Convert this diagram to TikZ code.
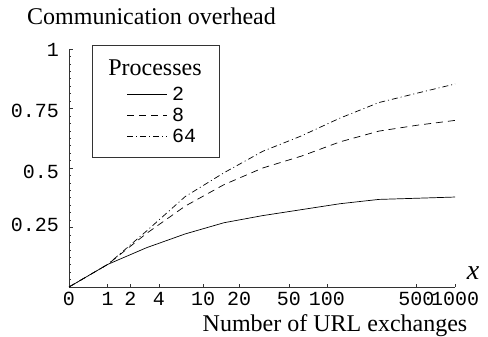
\documentclass[tikz,border=0pt]{standalone}
\usepackage{fontspec}
\setmainfont{Liberation Serif}
\setmonofont{Liberation Mono}
\begin{document}
\begin{tikzpicture}[x=1pt,y=1pt,
  axisline/.style={black!80,line width=0.7pt},
  tickmark/.style={black!80,line width=0.5pt},
  ticklab/.style={font=\fontsize{20}{20}\selectfont\ttfamily,inner sep=0pt},
  txt/.style={font=\fontsize{24}{24}\selectfont,inner sep=0pt},
  curve/.style={line width=0.7pt,line join=round},
  proc2/.style={curve},
  proc8/.style={curve,dash pattern=on 7pt off 5pt},
  proc64/.style={curve,dash pattern=on 6pt off 3pt on 1pt off 3pt}]
\useasboundingbox (0,0) rectangle (488,337);

% axes
\coordinate (O) at (69,50);
\coordinate (xend) at (455,50);
\coordinate (yend) at (69,288);
\draw[axisline] (xend) -- (O) -- (yend);

% y ticks: majors every 0.25, minors in between
\foreach \i in {0,...,32}{
  \pgfmathsetmacro{\yy}{50+238*\i/32}
  \draw[tickmark] (69,\yy) -- ++(2,0);
}
\foreach \v in {0.25,0.5,0.75,1}{
  \pgfmathsetmacro{\yy}{50+238*\v}
  \draw[tickmark] (69,\yy) -- ++(4,0);
}
\node[ticklab,anchor=east] (ly1)   at (59,287)   {1};
\node[ticklab,anchor=east] (ly075) at (59,226.5) {0.75};
\node[ticklab,anchor=east] (ly05)  at (59,165.5) {0.5};
\node[ticklab,anchor=east] (ly025) at (59,112)   {0.25};

% x ticks on a log(1+x) scale
\foreach \xx/\lab in {69/0,107.74/1,130.40/2,158.96/4,203.03/10,239.17/20,288.77/50,326.96/100,416.46/500,455.1/1000}{
  \draw[tickmark] (\xx,50) -- ++(0,3);
  \node[ticklab] (lx\lab) at (\xx,38) {\lab};
}

% axis titles
\node[txt,anchor=base west] (ytitle) at (27,312) {Communication overhead};
\node[txt,anchor=base] (xtitle) at (335,5) {Number of URL exchanges};
\node[font=\fontsize{28}{28}\selectfont\itshape,inner sep=0pt] (xvar) at (473,64) {x};

% curves: vertices at 2^k-1 exchanges, last one at 1000
\begin{scope}[shift={(69pt,50pt)},x=38.74pt,y=238pt]
\draw[proc2] (0,0) -- (1,0.095) -- (2,0.165) -- (3,0.223) -- (4,0.27) -- (5,0.30)
  -- (6,0.325) -- (7,0.35) -- (8,0.368) -- (9,0.373) -- (9.967,0.378);
\draw[proc8] (0,0) -- (1,0.095) -- (2,0.225) -- (3,0.34) -- (4,0.43) -- (5,0.50)
  -- (6,0.55) -- (7,0.61) -- (8,0.655) -- (9,0.68) -- (9.967,0.70);
\draw[proc64] (0,0) -- (1,0.095) -- (2,0.235) -- (3,0.38) -- (4,0.48) -- (5,0.57)
  -- (6,0.635) -- (7,0.71) -- (8,0.775) -- (9,0.815) -- (9.967,0.853);
\end{scope}

% legend
\draw[black!80,line width=0.8pt,fill=white] (92,180) rectangle (219,292);
\node[txt,anchor=base] (legtitle) at (155,261) {Processes};
\coordinate (a2) at (127,243); \coordinate (b2) at (167,243);
\coordinate (a8) at (127,222); \coordinate (b8) at (167,222);
\coordinate (a64) at (127,201); \coordinate (b64) at (167,201);
\draw[proc2] (a2) -- (b2);
\draw[proc8] (a8) -- (b8);
\draw[proc64] (a64) -- (b64);
\node[ticklab,anchor=west] (l2) at (172,243) {2};
\node[ticklab,anchor=west] (l8) at (172,222) {8};
\node[ticklab,anchor=west] (l64) at (172,201) {64};
\end{tikzpicture}
\end{document}
